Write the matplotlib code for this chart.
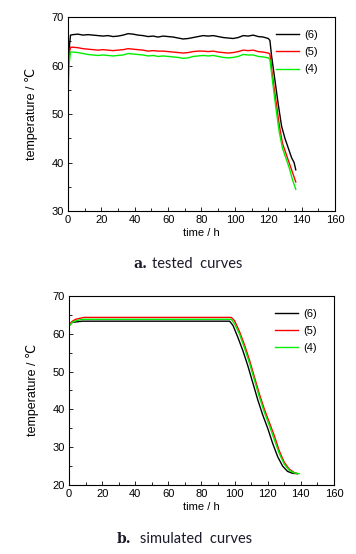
import numpy as np
import matplotlib
matplotlib.use('Agg')
import matplotlib.pyplot as plt
from matplotlib.ticker import MultipleLocator

plt.rcParams['font.family'] = ['Liberation Sans', 'DejaVu Sans']

# ---- a. tested curves ----
plateau_t = [0, 0.7, 1.5] + list(range(3, 121, 3))
tested_t6 = plateau_t + [121, 122, 124, 126, 128, 130, 132, 134, 135.5, 136.5]
tested_t5 = plateau_t + [121, 122.5, 124.5, 126.5, 128.5, 130.5, 132.5, 134.5, 136.5]
tested_t4 = plateau_t + [121, 122.5, 124.5, 126.5, 128.5, 130.5, 132.5, 134.5, 136.5]

tested_6 = [59.5, 63.5, 66.3,
            66.4, 66.5, 66.3, 66.4, 66.3, 66.2, 66.1, 66.2, 66.0, 66.1,
            66.3, 66.6, 66.5, 66.3, 66.2, 66.0, 66.1, 65.9, 66.1, 66.0,
            65.9, 65.7, 65.5, 65.6, 65.8, 66.0, 66.2, 66.1, 66.2, 66.0,
            65.8, 65.7, 65.6, 65.8, 66.2, 66.1, 66.3, 66.0, 65.9, 65.6,
            65.2, 62.0, 57.0, 52.0, 47.5, 45.0, 43.0, 41.0, 40.0, 38.5]
tested_5 = [58.5, 62.5, 63.8,
            63.8, 63.7, 63.5, 63.4, 63.3, 63.2, 63.3, 63.2, 63.1, 63.2,
            63.3, 63.5, 63.4, 63.3, 63.2, 63.0, 63.1, 63.0, 63.0, 62.9,
            62.8, 62.7, 62.6, 62.7, 62.9, 63.0, 63.0, 62.9, 63.0, 62.8,
            62.7, 62.6, 62.7, 62.9, 63.2, 63.1, 63.2, 62.9, 62.8, 62.6,
            62.4, 58.0, 53.0, 48.0, 44.0, 42.0, 40.0, 38.0, 36.0]
tested_4 = [54.0, 60.5, 62.8,
            62.8, 62.7, 62.5, 62.3, 62.2, 62.1, 62.2, 62.1, 62.0, 62.1,
            62.2, 62.5, 62.4, 62.3, 62.2, 62.0, 62.1, 61.9, 62.0, 61.9,
            61.8, 61.7, 61.5, 61.6, 61.9, 62.0, 62.1, 62.0, 62.1, 61.9,
            61.7, 61.6, 61.7, 61.9, 62.3, 62.2, 62.2, 61.9, 61.8, 61.6,
            61.3, 57.0, 51.5, 46.5, 43.0, 41.0, 39.0, 36.5, 34.5]

# ---- b. simulated curves ----
sim_t6 = [0, 1, 2, 4, 6, 8, 97, 99, 102, 105, 108, 111, 114, 117, 120, 123, 126, 129, 132, 135, 138]
sim_6 = [62.2, 62.6, 63.0, 63.1, 63.2, 63.3, 63.3, 62.2, 59.0, 55.5, 51.5, 47.0, 42.5, 38.5, 35.0, 31.0, 27.5, 25.0, 23.6, 23.1, 23.0]
sim_t5 = [0, 1, 2, 4, 6, 9, 98, 100, 103, 106, 109, 112, 115, 118, 121, 124, 127, 130, 133, 136, 138]
sim_5 = [62.2, 62.8, 63.3, 63.8, 64.0, 64.3, 64.3, 63.4, 60.5, 57.0, 53.0, 48.5, 44.0, 40.0, 36.5, 33.0, 29.0, 26.0, 24.2, 23.3, 23.0]
sim_t4 = [0, 1, 2, 4, 6, 8, 98, 100, 103, 106, 109, 112, 115, 118, 121, 124, 127, 130, 133, 136, 139]
sim_4 = [62.0, 62.5, 63.0, 63.4, 63.6, 63.8, 63.8, 62.6, 59.8, 56.2, 52.2, 47.7, 43.2, 39.2, 35.7, 32.0, 28.3, 25.5, 23.9, 23.2, 23.0]

labels = ['(6)', '(5)', '(4)']
colors = ['black', '#ff0000', '#00ee00']

fig = plt.figure(figsize=(3.56, 5.54), dpi=100)
ax1 = fig.add_axes([0.191, 0.619, 0.750, 0.350])
ax2 = fig.add_axes([0.194, 0.1245, 0.744, 0.3415])

panels = [
    (ax1, [(tested_t6, tested_6), (tested_t5, tested_5), (tested_t4, tested_4)], (30, 70)),
    (ax2, [(sim_t6, sim_6), (sim_t5, sim_5), (sim_t4, sim_4)], (20, 70)),
]

for ax, series, ylim in panels:
    for (t, v), lab, c in zip(series, labels, colors):
        ax.plot(t, v, color=c, lw=1.0, label=lab)
    ax.set_xlim(0, 160)
    ax.set_ylim(*ylim)
    ax.xaxis.set_major_locator(MultipleLocator(20))
    ax.xaxis.set_minor_locator(MultipleLocator(10))
    ax.yaxis.set_major_locator(MultipleLocator(10))
    ax.yaxis.set_minor_locator(MultipleLocator(5))
    ax.tick_params(which='both', direction='in', labelsize=8, pad=3, width=0.6)
    ax.tick_params(which='major', length=3)
    ax.tick_params(which='minor', length=2)
    for s in ax.spines.values():
        s.set_linewidth(0.8)
    ax.set_xlabel('time / h', fontsize=8, labelpad=2)
    ax.set_ylabel('temperature / \u2103', fontsize=9, labelpad=10)
    ax.legend(loc='upper right', frameon=False, fontsize=8, handlelength=2.1,
              handletextpad=0.5, labelspacing=0.65, borderaxespad=0.75,
              bbox_to_anchor=(0.985, 1.0))

cap_color = '#1a1a2a'
fig.text(0.374, 0.523, 'a.', fontsize=10, fontweight='bold', family='DejaVu Serif',
         color=cap_color, va='center')
fig.text(0.428, 0.523, 'tested  curves', fontsize=10.5, family='Lato',
         color=cap_color, va='center')
fig.text(0.329, 0.027, 'b.', fontsize=10, fontweight='bold', family='DejaVu Serif',
         color=cap_color, va='center')
fig.text(0.392, 0.027, 'simulated  curves', fontsize=10.5, family='Lato',
         color=cap_color, va='center')

fig.savefig('out.png', dpi=100)
